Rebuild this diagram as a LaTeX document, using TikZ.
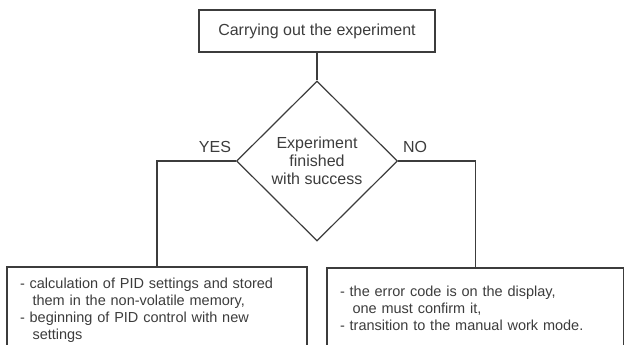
\documentclass[tikz,border=0pt]{standalone}
\usepackage{fontspec}
\setmainfont{Liberation Sans}
\usetikzlibrary{shapes.geometric}
\definecolor{inkgray}{HTML}{3C3C3C}
\newcommand{\contline}{\hspace*{12.5pt}}
\begin{document}
\begin{tikzpicture}[x=1pt, y=-1pt, line width=1.2pt, color=inkgray,
  stepbox/.style={draw, rectangle, inner sep=0pt, font=\fontsize{16}{18}\selectfont},
  testbox/.style={draw, diamond, inner sep=0pt, align=center, font=\fontsize{16}{18}\selectfont},
  listbox/.style={draw, rectangle, inner sep=0pt, align=left, font=\fontsize{14.5}{17}\selectfont},
  answer/.style={font=\fontsize{16}{18}\selectfont}]
\useasboundingbox (0,0) rectangle (624,345);
\clip (0,0) rectangle (624,345);
\node[stepbox, minimum width=236pt, minimum height=42pt] (start) at (317, 31) {Carrying out the experiment};
\node[testbox, minimum width=161pt, minimum height=160pt] (check) at (317, 161) {Experiment\\finished\\with success};
\node[listbox, minimum width=300pt, minimum height=86pt, text width=274pt] (yesbox) at (157, 310) {- calculation of PID settings and stored\\\contline them in the non-volatile memory,\\- beginning of PID control with new\\\contline settings};
\node[listbox, minimum width=297pt, minimum height=81pt, text width=271pt] (nobox) at (475.5, 308.5) {- the error code is on the display,\\\contline one must confirm it,\\- transition to the manual work mode.};
\node[answer] (yes) at (215, 147) {YES};
\node[answer] (no) at (415, 147) {NO};
\draw (start) -- (check);
\draw (check.west) -| (yesbox.north);
\draw (check.east) -| (nobox.north);
\end{tikzpicture}
\end{document}
